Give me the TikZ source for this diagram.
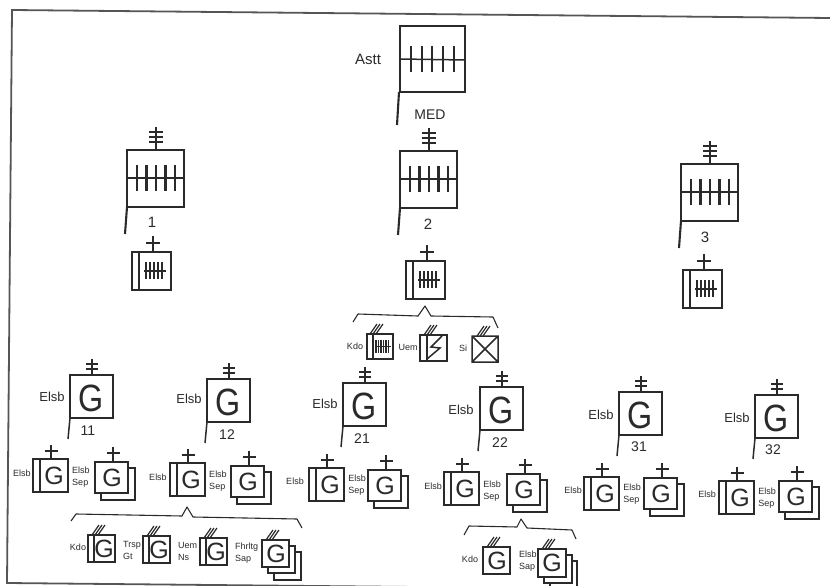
\documentclass[tikz,border=0pt]{standalone}
\usepackage{fontspec}
\setmainfont{Liberation Sans}
\newfontfamily\gfont[FakeStretch=0.85]{Liberation Sans}
\definecolor{ink}{HTML}{2A2A2A}
\tikzset{
  sym/.style={draw=ink,line width=1.5pt},
  thick sym/.style={draw=ink,line width=2.1pt},
  lab/.style={text=ink,inner sep=0pt,font=\fontsize{13}{14}\selectfont},
  num/.style={text=ink,inner sep=0pt,font=\fontsize{15}{16}\selectfont},
  tiny lab/.style={text=ink,inner sep=0pt,font=\fontsize{9}{12}\selectfont,align=left},
  big G/.style={text=ink,inner sep=0pt,font=\fontsize{38}{38}\gfont},
  small G/.style={text=ink,inner sep=0pt,font=\fontsize{25}{25}\selectfont},
  brace line/.style={draw=ink,line width=1.1pt,line join=round},
}
% large flag with G: name, left, top
\newcommand\gflag[3]{%
  \begin{scope}[shift={(#2,#3)}]
    \draw[sym] (0,0) rectangle (43,43);
    \draw[sym] (0,43) -- (-2,64);
    \draw[sym] (22,0) -- (22,-16) (16,-11) -- (28,-11) (16,-6) -- (28,-6);
    \node[big G] (#1) at (21,23) {G};
  \end{scope}}
% large flag with ticks: left, top
\newcommand\tflag[2]{%
  \begin{scope}[shift={(#1,#2)}]
    \draw[thick sym] (0,0) rectangle (57,57);
    \draw[thick sym] (0,57) -- (-2,84);
    \draw[sym] (0,28) -- (57,28);
    \foreach \t in {10,19.5,29,38.5,48}{\draw[thick sym] (\t,15) -- (\t,41);}
    \draw[sym] (29,0) -- (29,-23) (22,-18) -- (36,-18) (22,-13) -- (36,-13) (22,-8) -- (36,-8);
  \end{scope}}
% small unit with ticks
\newcommand\tsmall[2]{%
  \begin{scope}[shift={(#1,#2)}]
    \draw[sym] (0,0) rectangle (39,38) (7,0) -- (7,38);
    \draw[sym] (12,19) -- (34,19);
    \foreach \t in {14,18,22,26,30}{\draw[sym] (\t,10) -- (\t,27);}
    \draw[sym] (21,0) -- (21,-16) (14,-9) -- (28,-9);
  \end{scope}}
% double framed G with plus
\newcommand\dblG[3]{%
  \begin{scope}[shift={(#2,#3)}]
    \draw[sym] (0,0) rectangle (35,33) (7,0) -- (7,33);
    \draw[sym] (18,0) -- (18,-14) (11.5,-8) -- (24.5,-8);
    \node[small G] (#1) at (21,17) {G};
  \end{scope}}
% stacked G with plus
\newcommand\sepG[3]{%
  \begin{scope}[shift={(#2,#3)}]
    \draw[sym] (0,0) rectangle (33,31);
    \draw[sym] (33,6) -- (40,6) -- (40,38) -- (6,38) -- (6,31);
    \draw[sym] (18,0) -- (18,-15) (11.5,-9) -- (24.5,-9);
    \node[small G] (#1) at (17,16) {G};
  \end{scope}}
\newcommand\hatchmark[1]{%
  \draw[sym,line width=1.2pt] (#1,0) -- ++(7,-10) (#1+3,0) -- ++(7,-10) (#1+6,0) -- ++(7,-10);}
% hatched, double framed G
\newcommand\hdblG[3]{%
  \begin{scope}[shift={(#2,#3)}]
    \draw[sym] (0,0) rectangle (27,27) (6,0) -- (6,27);
    \hatchmark{4}
    \node[small G] (#1) at (16,14) {G};
  \end{scope}}
% hatched triple stacked G
\newcommand\hsepG[3]{%
  \begin{scope}[shift={(#2,#3)}]
    \draw[sym] (0,0) rectangle (27,27);
    \draw[sym] (27,6) -- (33,6) -- (33,33) -- (6,33) -- (6,27);
    \draw[sym] (33,12) -- (39,12) -- (39,40) -- (12,40) -- (12,33);
    \hatchmark{4}
    \node[small G] (#1) at (14,14) {G};
  \end{scope}}
\begin{document}
\begin{tikzpicture}[x=1pt,y=-1pt]
\useasboundingbox (0,0) rectangle (830,586);
% frame
\draw[draw=ink!80,line width=1.8pt] (830,18) -- (12,10) -- (7,583) -- (520,588);

% top flag
\draw[thick sym] (400,26) rectangle (465,92);
\draw[thick sym] (399,92) -- (397,125);
\draw[sym] (400,59) -- (465,60);
\foreach \t in {411,422,432,443,454}{\draw[thick sym] (\t,46) -- (\t,72);}
\node[num] (astt) at (368,59) {Astt};
\node[num,font=\fontsize{14}{15}\selectfont] (med) at (430,115) {MED};

% level 1
\tflag{127}{150}
\tflag{400}{151}
\tflag{681}{164}
\node[num] (n1) at (152,222) {1};
\node[num] (n2) at (428,224) {2};
\node[num] (n3) at (705,237) {3};
\tsmall{132}{252}
\tsmall{406}{261}
\tsmall{683}{270}

% brace under unit 2
\draw[brace line] (353,322) -- (358,314) -- (418,316) -- (425,306) -- (431,316) -- (493,317) -- (498,328);

% Kdo / Uem / Si
\node[tiny lab] (kdoa) at (355,346) {Kdo};
\begin{scope}[shift={(367,334)}]
  \draw[sym] (0,0) rectangle (26,25) (6,0) -- (6,25);
  \draw[sym] (8,12.5) -- (24,12.5);
  \foreach \t in {9,11.5,14,16.5,19,21.5}{\draw[sym] (\t,6) -- (\t,19);}
  \hatchmark{3}
\end{scope}
\node[tiny lab] (uema) at (408,347) {Uem};
\begin{scope}[shift={(420,335)}]
  \draw[sym] (0,0) rectangle (27,26) (7,0) -- (7,26);
  \draw[sym,line join=miter] (22,1) -- (11,12) -- (20,13) -- (7,24);
  \hatchmark{4}
\end{scope}
\node[tiny lab] (sia) at (463,348) {Si};
\begin{scope}[shift={(472,336)}]
  \draw[sym] (0,0) rectangle (26,26) (0,0) -- (26,26) (26,0) -- (0,26);
  \hatchmark{5}
\end{scope}

% G flags
\gflag{g11}{70}{375}
\gflag{g12}{207}{379}
\gflag{g21}{343}{383}
\gflag{g22}{480}{387}
\gflag{g31}{619}{392}
\gflag{g32}{755}{395}
\node[lab] (l11) at (52,397) {Elsb};
\node[lab] (l12) at (189,399) {Elsb};
\node[lab] (l21) at (325,404) {Elsb};
\node[lab] (l22) at (461,410) {Elsb};
\node[lab] (l31) at (601,415) {Elsb};
\node[lab] (l32) at (737,418) {Elsb};
\node[num,font=\fontsize{14}{15}\selectfont] (n11) at (88,431) {11};
\node[num,font=\fontsize{14}{15}\selectfont] (n12) at (227,435) {12};
\node[num,font=\fontsize{14}{15}\selectfont] (n21) at (362,439) {21};
\node[num,font=\fontsize{14}{15}\selectfont] (n22) at (500,443) {22};
\node[num,font=\fontsize{14}{15}\selectfont] (n31) at (639,447) {31};
\node[num,font=\fontsize{14}{15}\selectfont] (n32) at (773,450) {32};

% sub-units
\dblG{d11}{33}{459}
\sepG{s11}{95}{462}
\dblG{d12}{170}{463}
\sepG{s12}{231}{466}
\dblG{d21}{309}{468}
\sepG{s21}{368}{470}
\dblG{d22}{444}{472}
\sepG{s22}{507}{474}
\dblG{d31}{584}{477}
\sepG{s31}{644}{478}
\dblG{d32}{719}{481}
\sepG{s32}{779}{481}
\node[tiny lab] (e11) at (22,473) {Elsb};
\node[tiny lab] (e12) at (158,477) {Elsb};
\node[tiny lab] (e21) at (295,481) {Elsb};
\node[tiny lab] (e22) at (433,486) {Elsb};
\node[tiny lab] (e31) at (573,490) {Elsb};
\node[tiny lab] (e32) at (707,494) {Elsb};
\node[tiny lab] (t11) at (81,477) {Elsb\\Sep};
\node[tiny lab] (t12) at (218,481) {Elsb\\Sep};
\node[tiny lab] (t21) at (357,485) {Elsb\\Sep};
\node[tiny lab] (t22) at (492,491) {Elsb\\Sep};
\node[tiny lab] (t31) at (632,494) {Elsb\\Sep};
\node[tiny lab] (t32) at (767,498) {Elsb\\Sep};

% bottom left brace group
\draw[brace line] (71,521) -- (76,514) -- (182,516) -- (187,507) -- (193,517) -- (297,519) -- (302,528);
\node[tiny lab] (kdob) at (78,547) {Kdo};
\hdblG{hb1}{88}{535}
\node[tiny lab,anchor=west] (trsp) at (123,550) {Trsp\\Gt};
\hdblG{hb2}{143}{536}
\node[tiny lab,anchor=west] (uemb) at (178,551) {Uem\\Ns};
\hdblG{hb3}{200}{538}
\node[tiny lab,anchor=west] (fhr) at (235,553) {Fhrltg\\Sap};
\hsepG{hb4}{262}{540}

% bottom right brace group
\draw[brace line] (464,535) -- (469,526) -- (517,527) -- (521,519) -- (527,528) -- (572,530) -- (576,539);
\node[tiny lab] (kdoc) at (470,559) {Kdo};
\begin{scope}[shift={(483,547)}]
  \draw[sym] (0,0) rectangle (27,27);
  \hatchmark{4}
  \node[small G] (hc1) at (14,14) {G};
\end{scope}
\node[tiny lab,anchor=west] (elc) at (519,561) {Elsb\\Sap};
\begin{scope}[shift={(538,549)}]
  \clip (-20,-20) rectangle (60,37);
  \draw[sym] (0,0) rectangle (28,28);
  \draw[sym] (28,6) -- (34,6) -- (34,34) -- (6,34) -- (6,28);
  \draw[sym] (34,12) -- (39,12) -- (39,41) -- (12,41) -- (12,34);
  \hatchmark{4}
  \node[small G] (hc2) at (14,14) {G};
\end{scope}
\end{tikzpicture}
\end{document}
